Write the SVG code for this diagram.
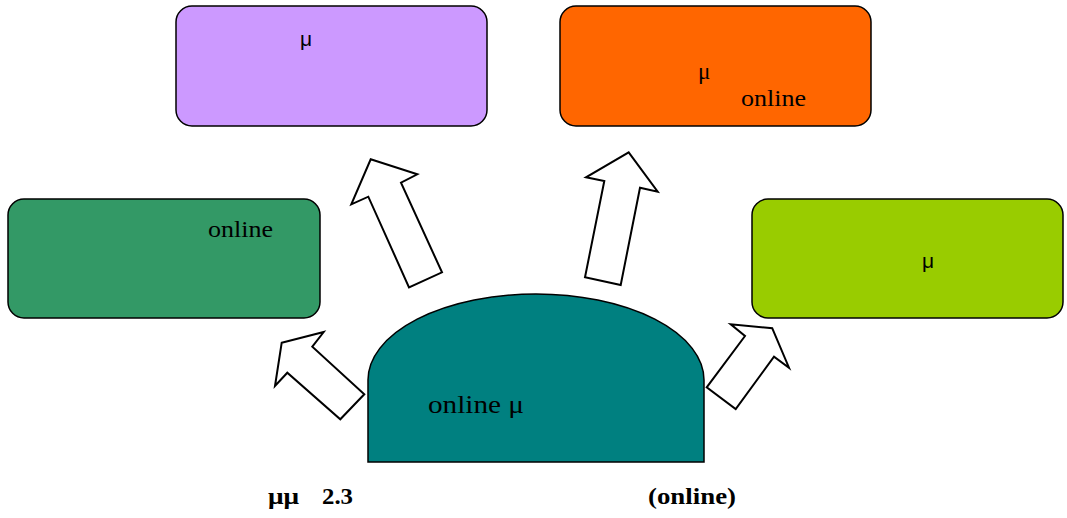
<svg xmlns="http://www.w3.org/2000/svg" width="1067" height="518" viewBox="0 0 1067 518">
<style>
.box{stroke:#000;stroke-width:1.5}
.arrow{fill:#fff;stroke:#000;stroke-width:2;stroke-linejoin:miter}
.serif{font-family:"Liberation Serif","Times New Roman",serif;fill:#000}
.sans{font-family:"Liberation Sans",Arial,sans-serif;fill:#000}
.cap{font-family:"Liberation Serif","Times New Roman",serif;font-size:23px;font-weight:bold;fill:#000}
</style>
<rect width="1067" height="518" fill="#fff"/>
<g id="node-purple">
<rect class="box" x="176" y="6" width="311" height="120" rx="16" fill="#CC99FF"/>
<text class="sans" x="300" y="46" font-size="21">μ</text>
</g>
<g id="node-orange">
<rect class="box" x="560" y="6" width="311" height="120" rx="16" fill="#FF6600"/>
<text class="serif" x="698" y="79" font-size="23">μ</text>
<text class="serif" x="741" y="106" font-size="23" textLength="65" lengthAdjust="spacingAndGlyphs">online</text>
</g>
<g id="node-green">
<rect class="box" x="8" y="199" width="312" height="119" rx="16" fill="#339966"/>
<text class="serif" x="208" y="237" font-size="23" textLength="65" lengthAdjust="spacingAndGlyphs">online</text>
</g>
<g id="node-lime">
<rect class="box" x="752" y="199" width="311" height="119" rx="16" fill="#99CC00"/>
<text class="sans" x="922" y="268" font-size="21">μ</text>
</g>
<g id="node-center">
<path class="box" d="M368,462 L368,380 A168,86 0 0 1 704,380 L704,462 Z" fill="#008080"/>
<text class="serif" x="428" y="413" font-size="26" textLength="96" lengthAdjust="spacingAndGlyphs">online μ</text>
</g>
<g id="connectors">
<polygon class="arrow" points="370.7,159.3 417.3,174.3 401,182.7 442,272.3 409,287.3 368.3,196.7 351.3,204.3"/>
<polygon class="arrow" points="281.7,342.7 323.7,332 312.3,346.7 364.3,394.3 340.3,419.3 287.3,372.7 275,386"/>
<polygon class="arrow" points="628.7,152.3 657.7,191.7 640,187.7 620.7,285 585,277.3 604.3,181 586,177.3"/>
<polygon class="arrow" points="772.3,328.3 789,367.7 774,356.7 735.7,409 706.7,387.3 745,336 730.7,324.3"/>
</g>
<g id="caption">
<text class="cap" x="268" y="504" textLength="31" lengthAdjust="spacingAndGlyphs">μμ</text>
<text class="cap" x="322" y="504" textLength="31" lengthAdjust="spacingAndGlyphs">2.3</text>
<text class="cap" x="648" y="504" textLength="88" lengthAdjust="spacingAndGlyphs">(online)</text>
</g>
</svg>
